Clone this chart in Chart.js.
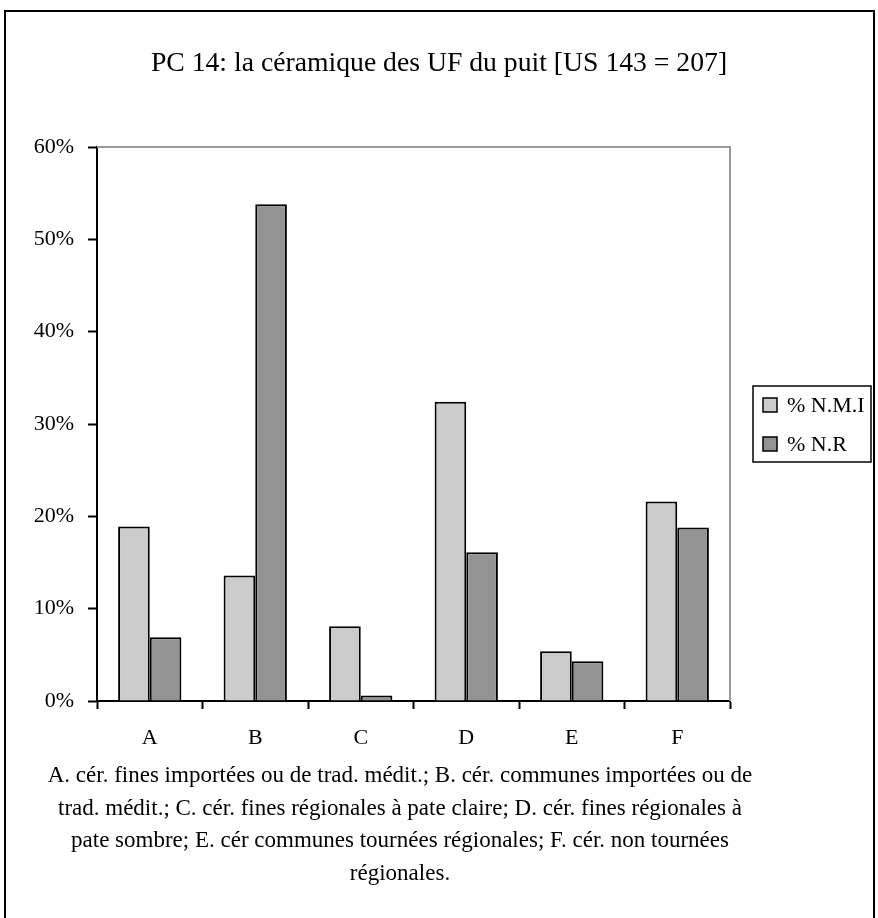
<!DOCTYPE html>
<html>
<head>
<meta charset="utf-8">
<script src="https://cdn.jsdelivr.net/npm/chart.js@4"></script>
<style>
  body { margin: 0; background: #fff; overflow: hidden; }
  #frame { position: absolute; left: 4px; top: 10px; width: 871px; height: 940px; border: 2px solid #000; box-sizing: border-box; }
  #wrap { position: absolute; left: 0; top: 0; width: 878px; height: 760px; }
  #note { position: absolute; left: 10px; top: 759px; width: 780px; text-align: center;
          font-family: "Liberation Serif", serif; font-size: 23px; line-height: 32.5px; color: #000; }
</style>
</head>
<body>
<div id="frame"></div>
<div id="wrap"><canvas id="chart"></canvas></div>
<div id="note">A. cér. fines importées ou de trad. médit.; B. cér. communes importées ou de<br>trad. médit.; C. cér. fines régionales à pate claire; D. cér. fines régionales à<br>pate sombre; E. cér communes tournées régionales; F. cér. non tournées<br>régionales.</div>
<script>
const categories = ['A', 'B', 'C', 'D', 'E', 'F'];
const nmi = [18.9, 13.6, 8.1, 32.4, 5.4, 21.6];
const nr = [6.9, 53.8, 0.6, 16.1, 4.3, 18.8];
const seriesNames = ['% N.M.I', '% N.R'];

const serif = 'Liberation Serif';

// gray frame on top/right of plot area
const plotFrame = {
  id: 'plotFrame',
  afterDraw(chart) {
    const { ctx, chartArea: a } = chart;
    ctx.save();
    ctx.strokeStyle = '#999';
    ctx.lineWidth = 2;
    ctx.beginPath();
    ctx.moveTo(a.left, a.top);
    ctx.lineTo(a.right, a.top);
    ctx.lineTo(a.right, a.bottom);
    ctx.stroke();
    ctx.restore();
  }
};

// boxed legend at the right, like the original
const boxLegend = {
  id: 'boxLegend',
  afterDraw(chart) {
    const ctx = chart.ctx;
    const x = 753, y = 386, w = 118, h = 76;
    ctx.save();
    ctx.strokeStyle = '#000';
    ctx.lineWidth = 1.5;
    ctx.strokeRect(x, y, w, h);
    ctx.font = '22px "' + serif + '"';
    ctx.textBaseline = 'middle';
    chart.data.datasets.forEach((ds, i) => {
      const cy = y + 19 + i * 39;
      ctx.fillStyle = ds.backgroundColor;
      ctx.fillRect(x + 10, cy - 7, 14, 14);
      ctx.strokeRect(x + 10, cy - 7, 14, 14);
      ctx.fillStyle = '#000';
      ctx.fillText(ds.label, x + 34, cy + 1);
    });
    ctx.restore();
  }
};

new Chart(document.getElementById('chart'), {
  type: 'bar',
  data: {
    labels: categories,
    datasets: [{
      label: seriesNames[0],
      data: nmi,
      backgroundColor: '#cccccc',
      borderColor: '#000',
      borderWidth: 2,
      categoryPercentage: 0.6,
      barPercentage: 1.0
    }, {
      label: seriesNames[1],
      data: nr,
      backgroundColor: '#939393',
      borderColor: '#000',
      borderWidth: 2,
      categoryPercentage: 0.6,
      barPercentage: 1.0
    }]
  },
  options: {
    responsive: true,
    maintainAspectRatio: false,
    animation: false,
    layout: { padding: 0 },
    plugins: {
      legend: { display: false },
      tooltip: { enabled: false },
      title: {
        display: true,
        text: 'PC 14: la céramique des UF du puit [US 143 = 207]',
        color: '#000',
        font: { family: serif, size: 27.7, weight: 'normal' },
        padding: { top: 47, bottom: 66.8 }
      }
    },
    scales: {
      x: {
        afterFit(scale) { scale.height = 59; },
        grid: { drawOnChartArea: false, tickLength: 8, tickColor: '#000', tickWidth: 2 },
        border: { color: '#000', width: 2 },
        ticks: { color: '#000', padding: 16, font: { family: serif, size: 22 } }
      },
      y: {
        min: 0,
        max: 60,
        afterFit(scale) { scale.width = 97; },
        grid: { drawOnChartArea: false, tickLength: 9, tickColor: '#000', tickWidth: 2 },
        border: { color: '#000', width: 2 },
        ticks: {
          stepSize: 10,
          color: '#000',
          padding: 14,
          font: { family: serif, size: 22 },
          callback: v => v + '%'
        }
      },
      // empty right-hand slot that leaves room for the legend
      side: {
        axis: 'y',
        position: 'right',
        afterFit(scale) { scale.width = 148; },
        grid: { display: false },
        border: { display: false },
        ticks: { display: false }
      }
    }
  },
  plugins: [plotFrame, boxLegend]
});
</script>
</body>
</html>
